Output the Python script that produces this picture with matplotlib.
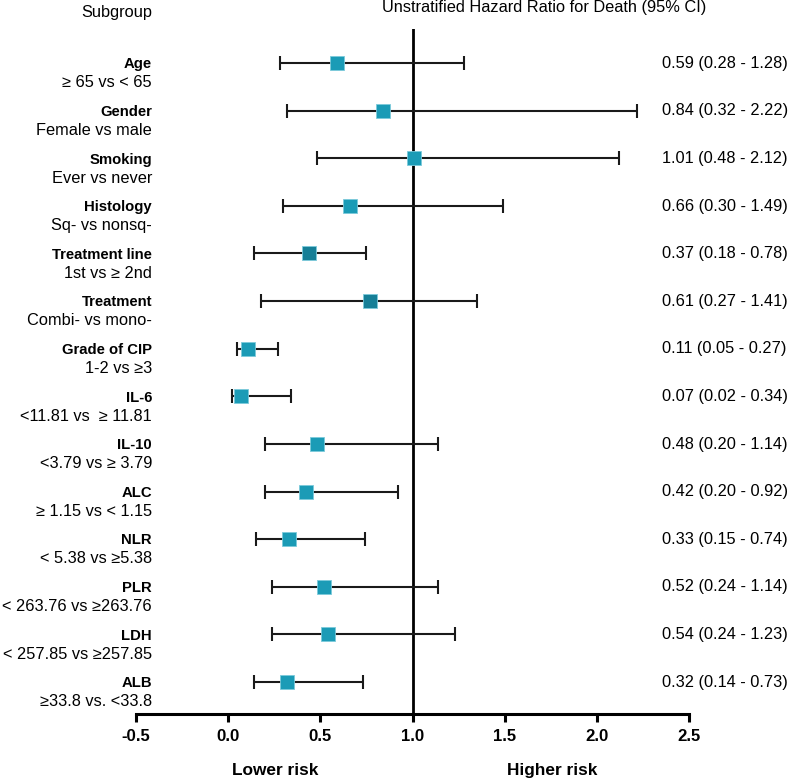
import matplotlib.pyplot as plt

plt.rcParams['font.family'] = ['Liberation Sans', 'DejaVu Sans']

# subgroups, top to bottom
names = ['Age', 'Gender', 'Smoking', 'Histology', 'Treatment line', 'Treatment',
         'Grade of CIP', 'IL-6', 'IL-10', 'ALC', 'NLR', 'PLR', 'LDH', 'ALB']
comparisons = ['≥ 65 vs < 65', 'Female vs male', 'Ever vs never', 'Sq- vs nonsq-',
               '1st vs ≥ 2nd', 'Combi- vs mono-', '1-2 vs ≥3', '<11.81 vs  ≥ 11.81',
               '<3.79 vs ≥ 3.79', '≥ 1.15 vs < 1.15', '< 5.38 vs ≥5.38',
               '< 263.76 vs ≥263.76', '< 257.85 vs ≥257.85', '≥33.8 vs. <33.8']
# values as drawn in the plot
hr = [0.59, 0.84, 1.01, 0.66, 0.44, 0.77, 0.11, 0.07, 0.48, 0.42, 0.33, 0.52, 0.54, 0.32]
ci_low = [0.28, 0.32, 0.48, 0.30, 0.14, 0.18, 0.05, 0.02, 0.20, 0.20, 0.15, 0.24, 0.24, 0.14]
ci_high = [1.28, 2.22, 2.12, 1.49, 0.75, 1.35, 0.27, 0.34, 1.14, 0.92, 0.74, 1.14, 1.23, 0.73]
# text column as printed
hr_text = ['0.59 (0.28 - 1.28)', '0.84 (0.32 - 2.22)', '1.01 (0.48 - 2.12)',
           '0.66 (0.30 - 1.49)', '0.37 (0.18 - 0.78)', '0.61 (0.27 - 1.41)',
           '0.11 (0.05 - 0.27)', '0.07 (0.02 - 0.34)', '0.48 (0.20 - 1.14)',
           '0.42 (0.20 - 0.92)', '0.33 (0.15 - 0.74)', '0.52 (0.24 - 1.14)',
           '0.54 (0.24 - 1.23)', '0.32 (0.14 - 0.73)']
x_ticks = [-0.5, 0.0, 0.5, 1.0, 1.5, 2.0, 2.5]

dark_rows = ['Treatment line', 'Treatment']

fig = plt.figure(figsize=(7.94, 7.79), dpi=100)
ax = fig.add_axes([136 / 794, 1 - 714 / 779, 553 / 794, 685 / 779])

px = 0.72  # points per pixel at 100 dpi

ax.axvline(1.0, color='black', lw=2.0, zorder=1)

for i in range(len(names)):
    ax.errorbar(hr[i], i, xerr=[[hr[i] - ci_low[i]], [ci_high[i] - hr[i]]],
                fmt='none', ecolor='#1a1a1a', elinewidth=1.5, capsize=4.7,
                capthick=1.5, zorder=2)
    col = '#167f97' if names[i] in dark_rows else '#1b9bb6'
    ax.plot(hr[i], i, marker='s', ms=9.6, color=col, mec='#7ccadb',
            mew=0.6, ls='none', zorder=3)

    ax.annotate(names[i], xy=(-0.413, i), xytext=(0, -5.3 * px),
                textcoords='offset points', ha='right', va='baseline',
                fontsize=10.7, fontweight='bold', annotation_clip=False)
    ax.annotate(comparisons[i], xy=(-0.413, i), xytext=(0, -24.3 * px),
                textcoords='offset points', ha='right', va='baseline',
                fontsize=11.8, annotation_clip=False)
    ax.annotate(hr_text[i], xy=(2.354, i), xytext=(0, -4.7 * px),
                textcoords='offset points', ha='left', va='baseline',
                fontsize=11.8, annotation_clip=False)

ax.set_xlim(-0.5, 2.5)
ax.set_ylim(13.672, -0.714)

for s in ['top', 'left', 'right']:
    ax.spines[s].set_visible(False)
ax.spines['bottom'].set_linewidth(2.2)
ax.set_yticks([])
ax.set_xticks(x_ticks)
ax.set_xticklabels([f'{t:.1f}' for t in x_ticks], fontsize=12.1, fontweight='bold')
ax.tick_params(axis='x', direction='out', length=6, width=2.2, pad=5)

fig.text(544 / 794, 1 - 12 / 779, 'Unstratified Hazard Ratio for Death (95% CI)',
         ha='center', va='baseline', fontsize=11.8)
fig.text(152 / 794, 1 - 16.7 / 779, 'Subgroup', ha='right', va='baseline', fontsize=11.8)
fig.text(275 / 794, 1 - 775 / 779, 'Lower risk', ha='center', va='baseline',
         fontsize=12.4, fontweight='bold')
fig.text(552 / 794, 1 - 775 / 779, 'Higher risk', ha='center', va='baseline',
         fontsize=12.4, fontweight='bold')

fig.savefig('out.png', dpi=100)
